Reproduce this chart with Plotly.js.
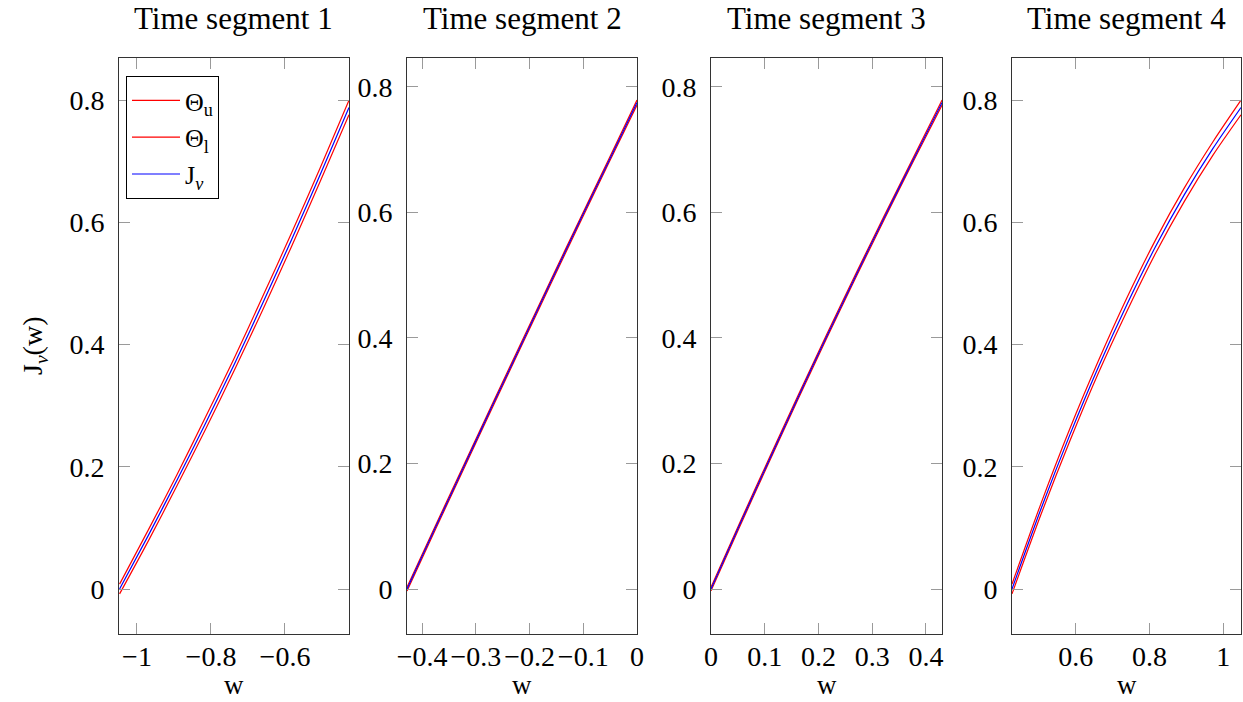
<!DOCTYPE html>
<html>
<head>
<meta charset="utf-8">
<script src="https://cdn.plot.ly/plotly-3.0.1.min.js"></script>
<style>html,body{margin:0;padding:0;background:#fff;}#chart{width:1243px;height:702px;}</style>
</head>
<body>
<div id="chart"></div>
<script>
// ---- data ----
const segmentTitles = ["Time segment 1", "Time segment 2", "Time segment 3", "Time segment 4"];

const w1 = [-1.047, -0.970, -0.892, -0.815, -0.737, -0.660, -0.582, -0.505, -0.427];
const j1 = [0.000, 0.087, 0.178, 0.271, 0.368, 0.468, 0.572, 0.678, 0.788];
const u1 = [0.008, 0.096, 0.187, 0.281, 0.378, 0.479, 0.583, 0.689, 0.800];
const l1 = [-0.008, 0.078, 0.169, 0.261, 0.358, 0.457, 0.561, 0.667, 0.776];

const w2 = [-0.428, -0.3745, -0.321, -0.2675, -0.214, -0.1605, -0.107, -0.0535, 0.000];
const j2 = [0.000, 0.099, 0.197, 0.295, 0.392, 0.489, 0.585, 0.680, 0.775];
const u2 = [0.003, 0.102, 0.200, 0.298, 0.395, 0.492, 0.588, 0.683, 0.779];
const l2 = [-0.003, 0.096, 0.194, 0.292, 0.389, 0.486, 0.582, 0.677, 0.771];

const w3 = [0.000, 0.05375, 0.1075, 0.16125, 0.215, 0.26875, 0.3225, 0.37625, 0.430];
const j3 = [0.000, 0.103, 0.204, 0.304, 0.402, 0.498, 0.592, 0.684, 0.775];
const u3 = [0.003, 0.106, 0.207, 0.307, 0.405, 0.501, 0.595, 0.687, 0.779];
const l3 = [-0.003, 0.100, 0.201, 0.301, 0.399, 0.495, 0.589, 0.681, 0.771];

const w4 = [0.427, 0.505, 0.583, 0.661, 0.739, 0.816, 0.894, 0.972, 1.048];
const j4 = [0.000, 0.130, 0.251, 0.363, 0.466, 0.560, 0.645, 0.721, 0.788];
const u4 = [0.008, 0.139, 0.261, 0.373, 0.477, 0.571, 0.656, 0.732, 0.800];
const l4 = [-0.008, 0.121, 0.241, 0.353, 0.455, 0.549, 0.634, 0.710, 0.776];

const yTickVals = [0, 0.2, 0.4, 0.6, 0.8];
const yTickText = ["0", "0.2", "0.4", "0.6", "0.8"];
const xTickVals = [[-1, -0.8, -0.6], [-0.4, -0.3, -0.2, -0.1, 0], [0, 0.1, 0.2, 0.3, 0.4], [0.6, 0.8, 1]];
const xTickText = [["−1", "−0.8", "−0.6"], ["−0.4", "−0.3", "−0.2", "−0.1", "0"], ["0", "0.1", "0.2", "0.3", "0.4"], ["0.6", "0.8", "1"]];

const seriesNames = ["Θ<sub>u</sub>", "Θ<sub>l</sub>", "J<sub><i>ν</i></sub>"];
const xLabel = "w";
const yLabel = "J<sub><i>ν</i></sub>(w)";

// ---- layout geometry ----
const W = 1243, H = 702;
const pxX = [[119, 349], [407, 637], [711, 942], [1012, 1241]];
const pxY = [58, 634];
const xRanges = [[-1.0486, -0.427], [-0.428, 0], [0, 0.4298], [0.427, 1.048]];
const yRanges = [[-0.0736, 0.869], [-0.0717, 0.846], [-0.0717, 0.846], [-0.0736, 0.869]];

const FONT = "Liberation Serif, Times New Roman, serif";
const panels = [[w1, u1, l1, j1], [w2, u2, l2, j2], [w3, u3, l3, j3], [w4, u4, l4, j4]];
const colors = ["#ff0000", "#ff0000", "#0000ff"];

const traces = [];
panels.forEach((p, i) => {
  const xa = i === 0 ? "x" : "x" + (i + 1);
  const ya = i === 0 ? "y" : "y" + (i + 1);
  [p[1], p[2], p[3]].forEach((ys, k) => {
    traces.push({
      x: p[0], y: ys, xaxis: xa, yaxis: ya, type: "scatter", mode: "lines",
      line: {color: colors[k], width: 1.2, shape: "spline", smoothing: 0.8},
      name: seriesNames[k], showlegend: i === 0, hoverinfo: "skip"
    });
  });
});

const layout = {
  width: W, height: H,
  margin: {l: 0, r: 0, t: 0, b: 0},
  paper_bgcolor: "#fff", plot_bgcolor: "#fff",
  font: {family: FONT, size: 28, color: "#000"},
  showlegend: true,
  legend: {
    x: 126 / W, y: 1 - 76 / H, xanchor: "left", yanchor: "top",
    bordercolor: "#000", borderwidth: 1, bgcolor: "#fff",
    font: {family: FONT, size: 26}, tracegroupgap: 0, itemwidth: 48,
    entrywidth: 108, entrywidthmode: "pixels"
  },
  annotations: []
};

for (let i = 0; i < 4; i++) {
  const sfx = i === 0 ? "" : String(i + 1);
  layout["xaxis" + sfx] = {
    domain: [pxX[i][0] / W, pxX[i][1] / W], range: xRanges[i], anchor: "y" + sfx,
    tickmode: "array", tickvals: xTickVals[i], ticktext: xTickText[i], tickangle: 0,
    ticks: "inside", ticklen: 11, tickcolor: "#9a9a9a", tickwidth: 1,
    showline: true, linecolor: "#333", linewidth: 1, mirror: "ticks",
    showgrid: false, zeroline: false, ticklabelstandoff: -3,
    tickfont: {family: FONT, size: 28, color: "#000"}
  };
  layout["yaxis" + sfx] = {
    domain: [1 - pxY[1] / H, 1 - pxY[0] / H], range: yRanges[i], anchor: "x" + sfx,
    tickmode: "array", tickvals: yTickVals, ticktext: yTickText,
    ticks: "inside", ticklen: 11, tickcolor: "#9a9a9a", tickwidth: 1,
    showline: true, linecolor: "#333", linewidth: 1, mirror: "ticks",
    showgrid: false, zeroline: false, ticklabelstandoff: 8,
    tickfont: {family: FONT, size: 28, color: "#000"}
  };
  const cx = (pxX[i][0] + pxX[i][1]) / 2 / W;
  layout.annotations.push({
    xref: "paper", yref: "paper", x: cx, y: 1 - 18 / H, xanchor: "center", yanchor: "middle",
    text: segmentTitles[i], showarrow: false, font: {family: FONT, size: 31, color: "#000"}
  });
  layout.annotations.push({
    xref: "paper", yref: "paper", x: cx, y: 0, xanchor: "center", yanchor: "bottom",
    text: xLabel, showarrow: false, font: {family: FONT, size: 27, color: "#000"}
  });
}
layout.annotations.push({
  xref: "paper", yref: "paper", x: 35 / W, y: 1 - 346 / H, xanchor: "center", yanchor: "middle",
  text: yLabel, textangle: -90, showarrow: false, font: {family: FONT, size: 28, color: "#000"}
});

Plotly.newPlot("chart", traces, layout, {staticPlot: true, displayModeBar: false});
</script>
</body>
</html>
